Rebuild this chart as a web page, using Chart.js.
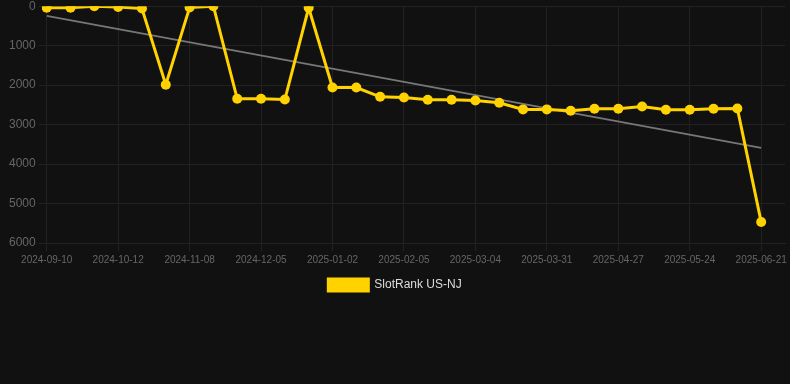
<!DOCTYPE html>
<html>
<head>
<meta charset="utf-8">
<script src="https://cdn.jsdelivr.net/npm/chart.js@4"></script>
<style>
    html, body { margin: 0; padding: 0; background: #111111; }
    #wrap { width: 790px; height: 305px; margin-top: -4px; }
</style>
</head>
<body>
<div id="wrap"><canvas id="rankChart"></canvas></div>
<script>
// dates on the x axis (every third one is shown), last one is an empty slot
const dates = [
    '2024-09-10', '2024-09-21', '2024-10-01', '2024-10-12', '2024-10-21', '2024-10-30',
    '2024-11-08', '2024-11-17', '2024-11-26', '2024-12-05', '2024-12-14', '2024-12-23',
    '2025-01-02', '2025-01-13', '2025-01-24', '2025-02-05', '2025-02-14', '2025-02-23',
    '2025-03-04', '2025-03-13', '2025-03-22', '2025-03-31', '2025-04-09', '2025-04-18',
    '2025-04-27', '2025-05-06', '2025-05-15', '2025-05-24', '2025-06-02', '2025-06-11',
    '2025-06-21', '2025-06-30'
];

// rank values
const rankValues = [
    40, 40, 0, 20, 60, 1990, 35, 0, 2345, 2345, 2365, 40,
    2060, 2060, 2295, 2315, 2370, 2370, 2390, 2445, 2615, 2615,
    2650, 2600, 2600, 2540, 2625, 2625, 2600, 2590, 5470, null
];

// trend line end points
const trendStart = 245;
const trendEnd = 3590;

const yTicks = [0, 1000, 2000, 3000, 4000, 5000, 6000];

const trendData = dates.map((d, i) => {
    if (i === 0) return trendStart;
    if (i === 30) return trendEnd;
    return null;
});

document.addEventListener('DOMContentLoaded', function () {
    const ctx = document.getElementById('rankChart').getContext('2d');

    new Chart(ctx, {
        type: 'line',
        data: {
            labels: dates,
            datasets: [{
                label: 'SlotRank US-NJ',
                data: rankValues,
                borderColor: '#ffd200',
                backgroundColor: '#ffd200',
                borderWidth: 3,
                pointRadius: 5,
                pointBorderWidth: 0,
                pointBackgroundColor: '#ffd200',
                tension: 0,
                order: 1
            }, {
                label: 'trend',
                data: trendData,
                borderColor: '#777777',
                borderWidth: 2,
                pointRadius: 0,
                spanGaps: true,
                order: 2
            }]
        },
        options: {
            responsive: true,
            maintainAspectRatio: false,
            animation: false,
            scales: {
                x: {
                    grid: {
                        color: function (c) {
                            return c.index % 3 === 0 && c.index <= 30 ? '#222222' : 'rgba(0,0,0,0)';
                        },
                        tickLength: 8
                    },
                    border: { color: '#222222' },
                    ticks: {
                        color: '#666666',
                        autoSkip: false,
                        maxRotation: 0,
                        font: { family: 'Arial', size: 10 },
                        callback: function (value, index) {
                            return index % 3 === 0 && index <= 30 ? dates[index] : '';
                        }
                    }
                },
                y: {
                    reverse: true,
                    min: 0,
                    max: 6000,
                    afterBuildTicks: function (axis) {
                        axis.ticks = yTicks.map(v => ({ value: v }));
                    },
                    afterFit: function (axis) {
                        axis.width += 6;
                    },
                    grid: {
                        color: '#222222',
                        tickLength: 8
                    },
                    border: { color: '#222222' },
                    ticks: {
                        color: '#666666',
                        font: { family: 'Arial', size: 12 },
                        callback: function (value) {
                            return String(value);
                        }
                    }
                }
            },
            plugins: {
                legend: {
                    position: 'bottom',
                    labels: {
                        color: '#dddddd',
                        boxWidth: 40,
                        boxHeight: 12,
                        font: { family: 'Arial', size: 12 },
                        filter: function (item) {
                            return item.datasetIndex === 0;
                        }
                    }
                },
                tooltip: { enabled: false }
            }
        }
    });
});
</script>
</body>
</html>
